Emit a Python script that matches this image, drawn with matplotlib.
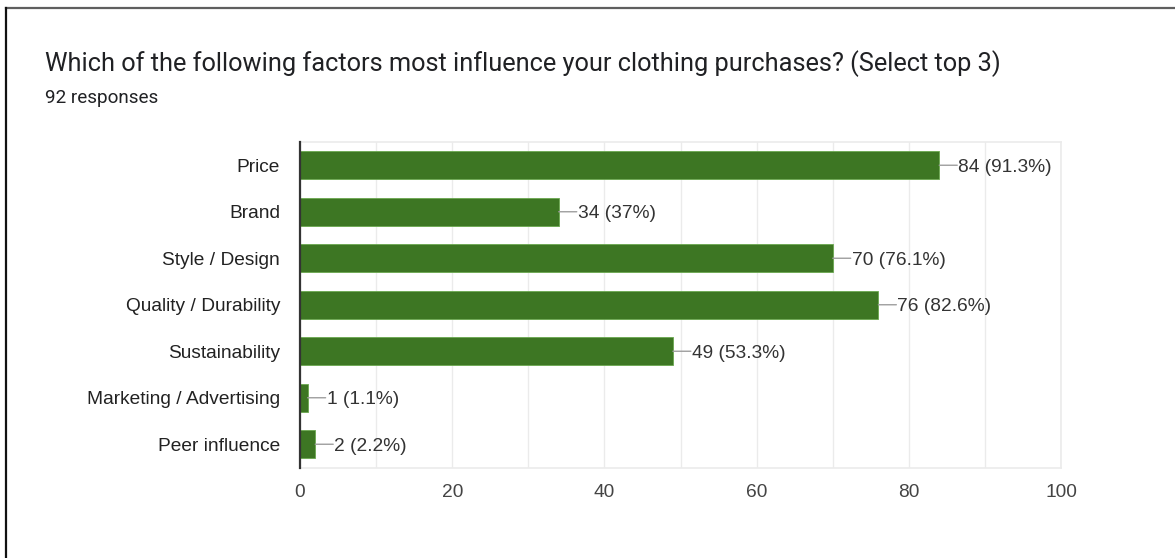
import matplotlib.pyplot as plt
from matplotlib.lines import Line2D

# Survey results: clothing purchase factors (top 3 picks)
categories = ["Price", "Brand", "Style / Design", "Quality / Durability",
              "Sustainability", "Marketing / Advertising", "Peer influence"]
counts = [84, 34, 70, 76, 49, 1, 2]
percents = ["91.3%", "37%", "76.1%", "82.6%", "53.3%", "1.1%", "2.2%"]
n_responses = 92
title = "Which of the following factors most influence your clothing purchases? (Select top 3)"

BAR_GREEN = "#3d7623"
TEXT = "#333333"
FS = 13.8

fig = plt.figure(figsize=(11.75, 5.58), dpi=100)

# card border (top and left edges only)
fig.add_artist(Line2D([6 / 1175, 1], [1 - 8 / 558, 1 - 8 / 558], color="#5f5f5f", lw=1.6))
fig.add_artist(Line2D([6 / 1175, 6 / 1175], [0, 1 - 8 / 558], color="#111111", lw=1.6))

fig.text(45 / 1175, 1 - 64 / 558, title, fontsize=18.3, family="Roboto",
         color="#202124", va="center", ha="left")
fig.text(45 / 1175, 1 - 98 / 558, f"{n_responses} responses", fontsize=13.6,
         family="Roboto", color="#202124", va="center", ha="left")

ax = fig.add_axes([300 / 1175, 1 - 467.5 / 558, 761 / 1175, 325.5 / 558])
y = range(len(categories))
ax.barh(y, counts, height=0.6, color=BAR_GREEN, edgecolor="#6aa84f",
        linewidth=0.6, zorder=3)

ax.set_xlim(0, 100)
ax.set_ylim(len(categories) - 0.5, -0.5)
ax.set_yticks(list(y))
ax.set_yticklabels(categories, family="Liberation Sans", fontsize=FS, color="#222222",
                   va="center_baseline")
ax.set_xticks(range(0, 101, 20))
ax.set_xticks(range(10, 100, 20), minor=True)
ax.tick_params(axis="x", which="both", length=0, pad=12, labelsize=FS,
               labelcolor="#444444")
for lab in ax.get_xticklabels():
    lab.set_family("Liberation Sans")
ax.tick_params(axis="y", length=0, pad=14.4)
ax.grid(axis="x", which="both", color="#ebebeb", lw=1, zorder=0)

for side in ["top", "right", "bottom"]:
    ax.spines[side].set_color("#ebebeb")
    ax.spines[side].set_linewidth(1.2)
ax.spines["left"].set_color("#333333")
ax.spines["left"].set_linewidth(1.6)
ax.spines["left"].set_zorder(4)

# value labels with short horizontal leader lines
for i, (c, p) in enumerate(zip(counts, percents)):
    ax.annotate("", xy=(c, i), xytext=(18, 0), textcoords="offset pixels",
                arrowprops=dict(arrowstyle="-", color="#9e9e9e", lw=1,
                                shrinkA=0, shrinkB=0), zorder=4)
    ax.annotate(f"{c} ({p})", xy=(c, i), xytext=(19, 0), textcoords="offset pixels",
                ha="left", va="center_baseline", fontsize=FS, family="Liberation Sans",
                color=TEXT, zorder=5)

fig.savefig("out.png", dpi=100)
